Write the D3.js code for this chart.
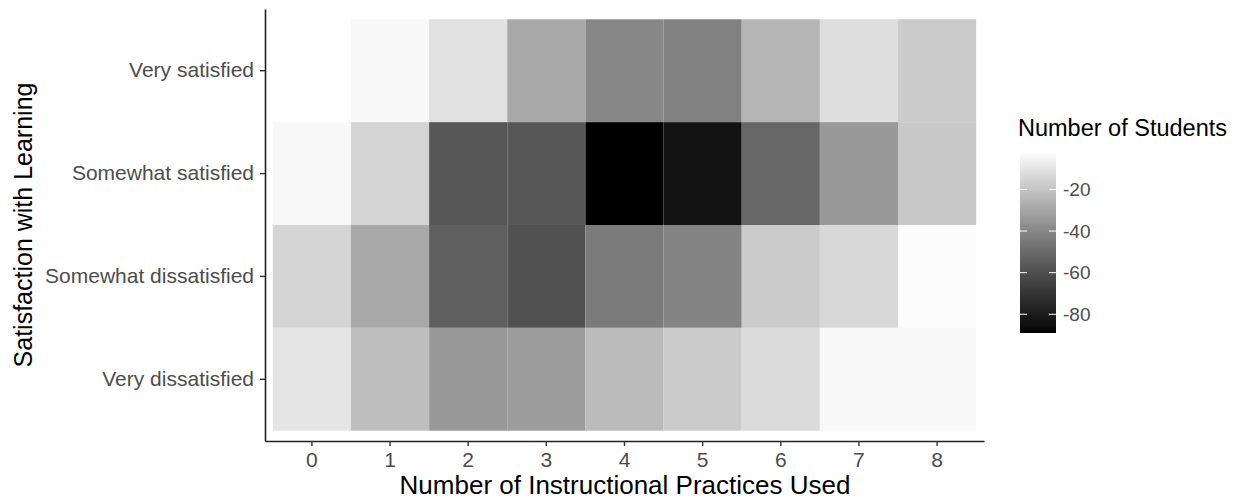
<!DOCTYPE html>
<html>
<head>
<meta charset="utf-8">
<script src="https://cdn.jsdelivr.net/npm/d3@7"></script>
<style>
  body { margin: 0; background: #fff; }
  svg { font-family: "Liberation Sans", Arial, sans-serif; }
</style>
</head>
<body>
<script>
// practices used (x) and satisfaction levels (y, top to bottom)
var practices = ['0', '1', '2', '3', '4', '5', '6', '7', '8'];
var levels = ['Very satisfied', 'Somewhat satisfied', 'Somewhat dissatisfied', 'Very dissatisfied'];

// negated student counts
var verySatisfied        = [-2, -4, -11, -29, -40, -42, -25, -12, -18];
var somewhatSatisfied    = [-4, -15, -57, -57, -89, -84, -51, -34, -19];
var somewhatDissatisfied = [-15, -29, -54, -59, -44, -41, -18, -14, -3];
var veryDissatisfied     = [-10, -22, -34, -33, -23, -18, -13, -4, -4];

var legendTicks = [-20, -40, -60, -80];

var rows = [verySatisfied, somewhatSatisfied, somewhatDissatisfied, veryDissatisfied];
var cells = [];
rows.forEach(function(r, i) {
    r.forEach(function(v, j) {
        cells.push({ x: practices[j], y: levels[i], v: v });
    });
});

var _w = 1239, _h = 501;
var svg = d3.select('body').append('svg')
    .attr('width', _w)
    .attr('height', _h);

var x = d3.scaleBand().domain(practices).range([265, 984]).paddingInner(0).paddingOuter(0.1);
var y = d3.scaleBand().domain(levels).range([9, 441]).paddingInner(0).paddingOuter(0.1);

var ext = d3.extent(cells, function(d) { return d.v; });
var color = d3.scaleLinear().domain(ext).range(['black', 'white']).interpolate(d3.interpolateLab);

svg.append('g').selectAll('rect')
    .data(cells)
    .enter().append('rect')
    .attr('x', function(d) { return x(d.x); })
    .attr('y', function(d) { return y(d.y); })
    .attr('width', x.bandwidth())
    .attr('height', y.bandwidth())
    .attr('fill', function(d) { return color(d.v); });

// axes
var gx = svg.append('g')
    .attr('transform', 'translate(0,441)')
    .call(d3.axisBottom(x).tickSize(5).tickSizeOuter(0).tickPadding(6));
var gy = svg.append('g')
    .attr('transform', 'translate(265,0)')
    .call(d3.axisLeft(y).tickSize(5).tickSizeOuter(0).tickPadding(6));

[gx, gy].forEach(function(g) {
    g.select('.domain').attr('stroke', '#222').attr('stroke-width', 1.6);
    g.selectAll('.tick line').attr('stroke', '#333').attr('stroke-width', 1.4);
    g.selectAll('.tick text')
        .attr('fill', '#4d4d4d')
        .style('font-size', '21px')
        .style('font-family', '"Liberation Sans", Arial, sans-serif');
});

svg.append('text')
    .attr('x', 625).attr('y', 494)
    .attr('text-anchor', 'middle')
    .style('font-size', '26px')
    .text('Number of Instructional Practices Used');

svg.append('text')
    .attr('transform', 'translate(32,225) rotate(-90)')
    .attr('text-anchor', 'middle')
    .style('font-size', '25px')
    .text('Satisfaction with Learning');

// legend
var defs = svg.append('defs');
var grad = defs.append('linearGradient')
    .attr('id', 'lg')
    .attr('x1', 0).attr('y1', 1).attr('x2', 0).attr('y2', 0);
d3.range(0, 1.0001, 0.05).forEach(function(t) {
    grad.append('stop')
        .attr('offset', t)
        .attr('stop-color', color(ext[0] + t * (ext[1] - ext[0])));
});

var ly = d3.scaleLinear().domain(ext).range([333, 152]);
var lx0 = 1020, lw = 36;

svg.append('text')
    .attr('x', 1018).attr('y', 136)
    .style('font-size', '23.5px')
    .text('Number of Students');

svg.append('rect')
    .attr('x', lx0).attr('y', ly(ext[1]))
    .attr('width', lw).attr('height', ly(ext[0]) - ly(ext[1]))
    .attr('fill', 'url(#lg)');

var lt = svg.append('g').selectAll('g').data(legendTicks).enter().append('g');
lt.append('line')
    .attr('x1', lx0).attr('x2', lx0 + 7)
    .attr('y1', function(d) { return ly(d); }).attr('y2', function(d) { return ly(d); })
    .attr('stroke', 'white').attr('stroke-width', 1);
lt.append('line')
    .attr('x1', lx0 + lw - 7).attr('x2', lx0 + lw)
    .attr('y1', function(d) { return ly(d); }).attr('y2', function(d) { return ly(d); })
    .attr('stroke', 'white').attr('stroke-width', 1);
lt.append('text')
    .attr('x', lx0 + lw + 7)
    .attr('y', function(d) { return ly(d); })
    .attr('dy', '0.35em')
    .attr('fill', '#4d4d4d')
    .style('font-size', '19px')
    .text(function(d) { return d; });
</script>
</body>
</html>
